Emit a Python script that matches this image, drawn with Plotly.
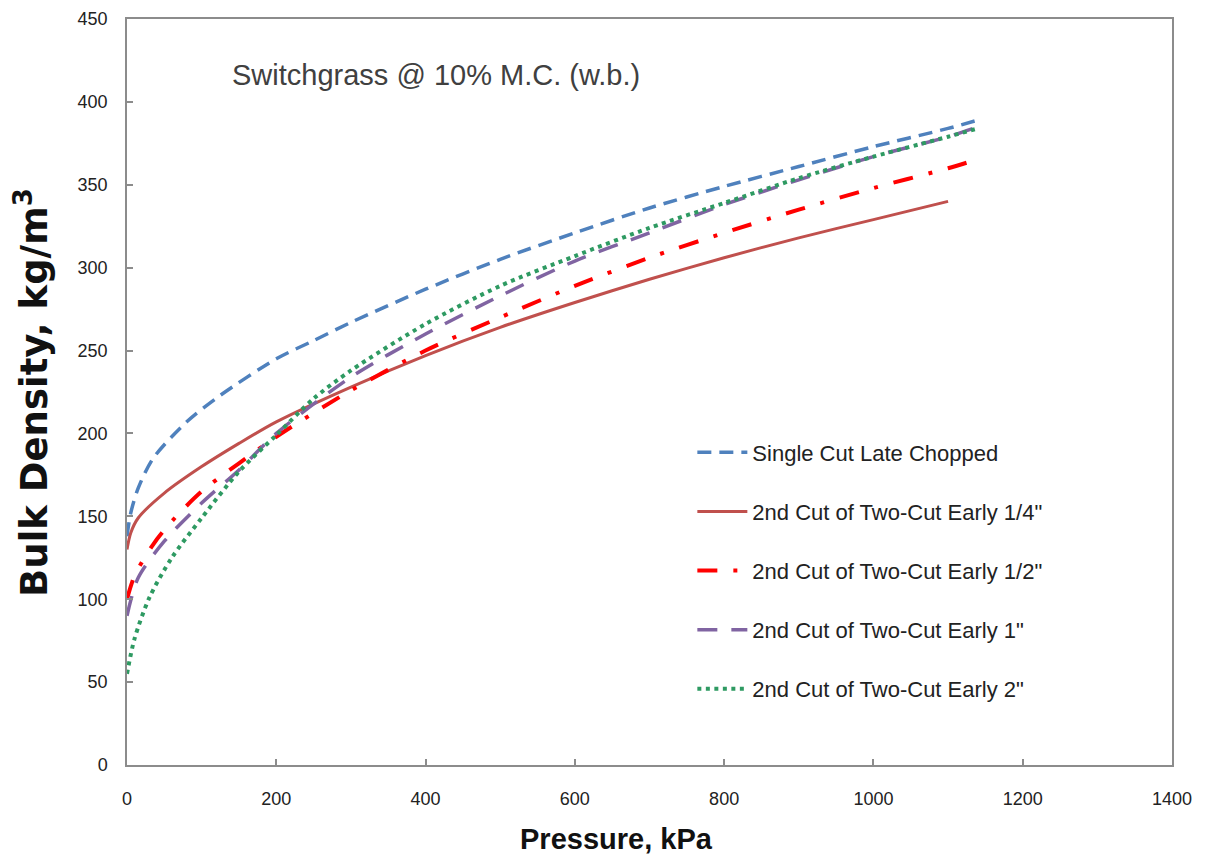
import plotly.graph_objects as go

# ---- data ----
series_names = [
    "Single Cut Late Chopped",
    "2nd Cut of Two-Cut Early 1/4\"",
    "2nd Cut of Two-Cut Early 1/2\"",
    "2nd Cut of Two-Cut Early 1\"",
    "2nd Cut of Two-Cut Early 2\"",
]

pressure_single = [0, 5, 15, 35, 80, 125, 200, 250, 300, 400, 500, 600, 700, 800, 900, 1000, 1100, 1140]
density_single = [138, 152, 167, 185, 207, 223, 245, 256, 267, 287, 305, 321, 336, 349, 361, 373, 384, 389]

pressure_quarter = [0, 5, 15, 50, 100, 150, 200, 300, 400, 500, 600, 700, 800, 900, 1000, 1100]
density_quarter = [130, 140, 149, 164, 180, 194, 207, 228, 247, 264, 279, 293, 306, 318, 329, 340]

pressure_half = [0, 10, 35, 60, 100, 150, 200, 300, 400, 500, 600, 700, 800, 900, 1000, 1100, 1130]
density_half = [100, 114, 133, 147, 165, 182, 198, 226, 250, 270, 289, 306, 321, 335, 348, 360, 364]

pressure_one = [0, 15, 50, 100, 150, 200, 300, 400, 500, 600, 700, 800, 900, 1000, 1100, 1140]
density_one = [90, 113, 135, 158, 178, 200, 234, 260, 283, 304, 321, 338, 353, 367, 379, 385]

pressure_two = [0, 10, 30, 60, 100, 150, 200, 250, 300, 400, 500, 600, 700, 800, 900, 1000, 1100, 1140]
density_two = [55, 76, 101, 125, 149, 177, 199, 221, 238, 266, 289, 307, 324, 339, 354, 367, 379, 384]

x_ticks = [0, 200, 400, 600, 800, 1000, 1200, 1400]
y_ticks = [0, 50, 100, 150, 200, 250, 300, 350, 400, 450]

# ---- styles ----
styles = [
    dict(color="#4F81BD", width=3.5, dash="14px,8px"),
    dict(color="#C0504D", width=3, dash="solid"),
    dict(color="#FF0000", width=4, dash="20px,16px,4px,16px"),
    dict(color="#8064A2", width=3.5, dash="20px,14px"),
    dict(color="#2E9A62", width=4, dash="4px,4.5px"),
]

xs = [pressure_single, pressure_quarter, pressure_half, pressure_one, pressure_two]
ys = [density_single, density_quarter, density_half, density_one, density_two]

fig = go.Figure()
for i, (name, x, y, st) in enumerate(zip(series_names, xs, ys, styles)):
    fig.add_trace(go.Scatter(
        x=x, y=y, mode="lines", name=name,
        line=dict(color=st["color"], width=st["width"], dash=st["dash"],
                  shape="spline", smoothing=0.8),
        legendgroup=f"g{i}",
    ))

sans = "Liberation Sans, Arial, sans-serif"
axis_common = dict(
    showgrid=False, zeroline=False, showline=True, linecolor="#8C8C8C", linewidth=1.5,
    mirror=True, ticks="inside", ticklen=6, tickcolor="#8C8C8C", tickwidth=1.5,
    tickfont=dict(family=sans, size=18, color="#222222"), automargin=False,
)

fig.update_xaxes(range=[0, 1400], tickvals=x_ticks, ticklabelstandoff=17, **axis_common)
fig.update_yaxes(range=[0, 450], tickvals=y_ticks, ticklabelstandoff=14, **axis_common)

# page body has an 8px margin; size the figure so the plot area lands where the reference has it
fig.update_layout(
    width=1189, height=847,
    margin=dict(l=119, r=25, t=11, b=90),
    plot_bgcolor="white", paper_bgcolor="white",
    showlegend=True,
    legend=dict(
        x=0.541, y=0.447, xanchor="left", yanchor="top",
        bgcolor="rgba(0,0,0,0)", traceorder="grouped", tracegroupgap=27.5,
        font=dict(family=sans, size=22, color="#222222"),
        itemwidth=50,
    ),
    annotations=[
        dict(text="Switchgrass @ 10% M.C. (w.b.)", xref="paper", yref="paper",
             x=0.0986, y=0.925, xanchor="left", yanchor="middle", showarrow=False,
             font=dict(family=sans, size=29, color="#404040")),
        dict(text="<b>Pressure, kPa</b>", xref="paper", yref="paper",
             x=0.468, y=-0.099, xanchor="center", yanchor="middle", showarrow=False,
             font=dict(family=sans, size=29, color="#111111")),
        dict(text="<b>Bulk Density, kg/m<sup>3</sup></b>", xref="paper", yref="paper",
             x=-0.091, y=0.50, xanchor="center", yanchor="middle", showarrow=False,
             textangle=-90,
             font=dict(family="DejaVu Sans, Arial, sans-serif", size=37, color="#111111")),
    ],
)

fig.write_html("out.html")
